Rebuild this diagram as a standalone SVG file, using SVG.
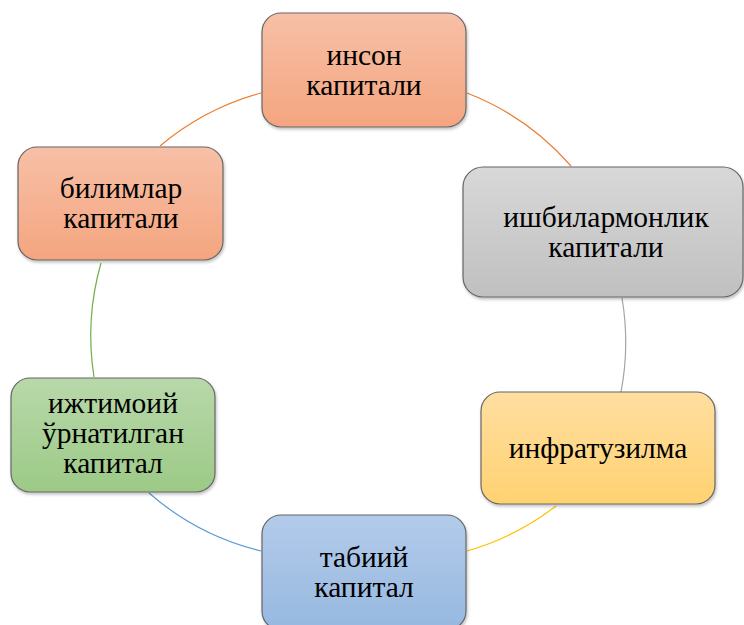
<svg xmlns="http://www.w3.org/2000/svg" width="744" height="625" viewBox="0 0 744 625">
<defs>
<linearGradient id="gOrange" x1="0" y1="0" x2="0" y2="1"><stop offset="0" stop-color="#F7C0A7"/><stop offset="1" stop-color="#F4A57F"/></linearGradient>
<linearGradient id="gGray" x1="0" y1="0" x2="0" y2="1"><stop offset="0" stop-color="#D8D8D8"/><stop offset="1" stop-color="#C0C0C0"/></linearGradient>
<linearGradient id="gYellow" x1="0" y1="0" x2="0" y2="1"><stop offset="0" stop-color="#FFDEA0"/><stop offset="1" stop-color="#FFD271"/></linearGradient>
<linearGradient id="gBlue" x1="0" y1="0" x2="0" y2="1"><stop offset="0" stop-color="#B3CBEA"/><stop offset="1" stop-color="#96B8E0"/></linearGradient>
<linearGradient id="gGreen" x1="0" y1="0" x2="0" y2="1"><stop offset="0" stop-color="#B8D8AA"/><stop offset="1" stop-color="#9CCA86"/></linearGradient>
<filter id="sh" x="-10%" y="-10%" width="120%" height="130%"><feDropShadow dx="1" dy="2" stdDeviation="1.5" flood-color="#000" flood-opacity="0.25"/></filter>
</defs>
<style>
.box{stroke:#666666;stroke-width:1.2;filter:url(#sh)}
.t{font-family:"Liberation Serif","Times New Roman",serif;font-size:29.5px;fill:#000;text-anchor:middle}
.c{fill:none;stroke-width:1.2}
</style>
<g id="connectors">
<path class="c" stroke="#ED7D31" d="M160,146 A265,265 0 0,1 261,93"/>
<path class="c" stroke="#ED7D31" d="M467,93 A265,265 0 0,1 571,166"/>
<path class="c" stroke="#A5A5A5" d="M622,298 A265,265 0 0,1 621,392"/>
<path class="c" stroke="#FFC000" d="M556,506 A265,265 0 0,1 467,551"/>
<path class="c" stroke="#5B9BD5" d="M261,551 A265,265 0 0,1 149,493"/>
<path class="c" stroke="#70AD47" d="M94,377 A265,265 0 0,1 101,263"/>
</g>
<g id="n-inson">
<rect class="box" x="262" y="13" width="204" height="114" rx="19" fill="url(#gOrange)"/>
<text class="t" x="364" y="65">инсон</text>
<text class="t" x="364" y="95">капитали</text>
</g>
<g id="n-ishbilarmonlik">
<rect class="box" x="463" y="167" width="280" height="130" rx="20" fill="url(#gGray)"/>
<text class="t" x="606" y="227">ишбилармонлик</text>
<text class="t" x="606" y="257">капитали</text>
</g>
<g id="n-infratuzilma">
<rect class="box" x="481" y="392" width="234" height="112" rx="19" fill="url(#gYellow)"/>
<text class="t" x="598" y="458">инфратузилма</text>
</g>
<g id="n-tabiiy">
<rect class="box" x="262" y="515" width="204" height="115" rx="19" fill="url(#gBlue)"/>
<text class="t" x="364" y="567">табиий</text>
<text class="t" x="364" y="597">капитал</text>
</g>
<g id="n-ijtimoiy">
<rect class="box" x="11" y="378" width="204" height="114" rx="19" fill="url(#gGreen)"/>
<text class="t" x="113" y="413">ижтимоий</text>
<text class="t" x="113" y="443">ўрнатилган</text>
<text class="t" x="113" y="473">капитал</text>
</g>
<g id="n-bilimlar">
<rect class="box" x="18" y="147" width="205" height="113" rx="19" fill="url(#gOrange)"/>
<text class="t" x="121" y="198">билимлар</text>
<text class="t" x="121" y="228">капитали</text>
</g>
</svg>
